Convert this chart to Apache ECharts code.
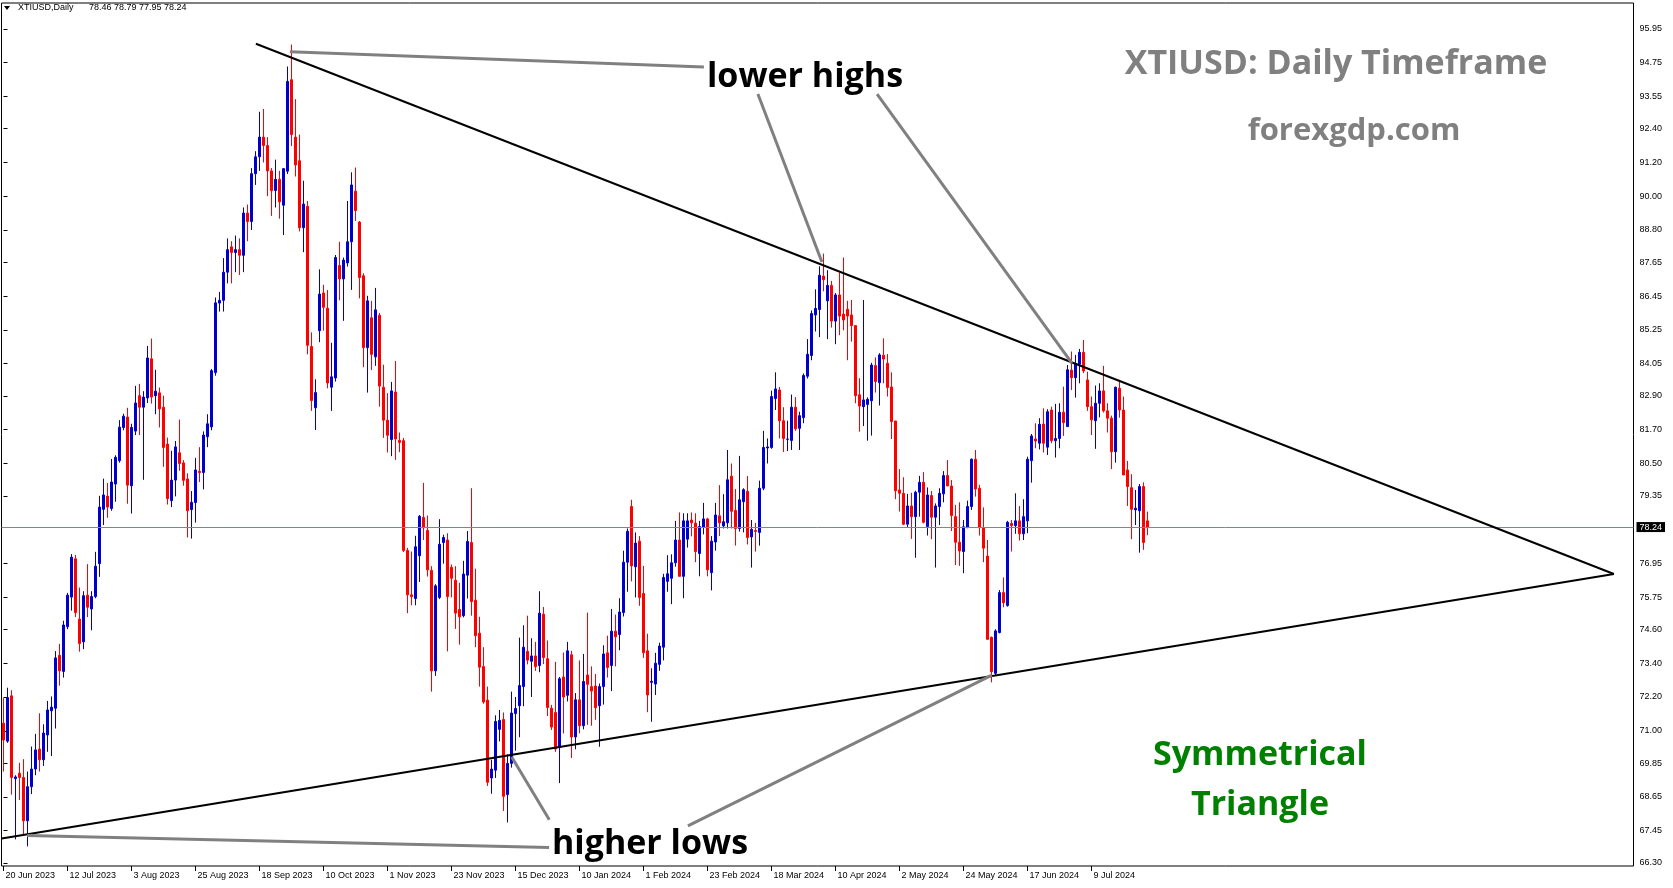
<!DOCTYPE html>
<html><head><meta charset="utf-8">
<script src="https://cdn.jsdelivr.net/npm/echarts@6/dist/echarts.min.js"></script>
<style>html,body{margin:0;padding:0;background:#fff}#c{width:1673px;height:888px}</style>
</head><body><div id="c"></div>
<script>
// ---------- DATA ----------
const symbolTitle = 'XTIUSD,Daily';
const headerValues = '78.46 78.79 77.95 78.24';
const startDate = '2023-06-20';
const holidays = ['2023-12-25', '2024-01-01', '2024-03-29'];
const totalSlots = 408;            // chart width in bars (incl. empty space on the right)
const labelEvery = 16;
const lastLabelIndex = 272;
const lastPrice = 78.24;

const opens = [
71.27,70.63,72.24,69.30,69.49,69.34,67.80,69.01,69.64,70.35,
69.97,70.85,71.71,71.80,73.68,73.11,74.70,75.75,77.11,74.97,
74.16,75.82,75.33,75.77,76.94,78.87,79.34,78.90,79.77,80.60,
81.78,82.15,79.71,81.65,82.91,82.50,82.83,84.22,82.91,83.01,
82.50,81.19,79.18,79.91,80.88,80.52,79.95,78.86,79.11,80.22,
80.18,81.45,81.80,83.73,86.2,86.3,87.3,88.2,88.0,88.1,
87.9,89.4,89.1,90.8,91.4,92.1,91.8,90.9,90.2,90.6,
89.68,90.89,94.14,92.10,91.26,88.88,89.64,84.66,82.48,85.22,
86.56,86.02,83.21,83.54,87.54,87.06,87.63,88.38,90.18,89.08,
87.17,84.62,85.68,84.29,85.77,83.21,82.04,81.35,83.04,81.32,
81.31,77.41,75.83,75.70,77.22,78.58,78.12,76.70,73.13,75.74,
77.69,77.78,76.81,76.35,75.31,75.09,76.53,77.69,75.64,74.47,
73.28,72.09,69.32,69.60,71.05,71.40,68.73,69.84,71.61,71.89,
72.57,73.82,73.47,73.66,73.32,75.14,73.56,71.80,71.65,70.40,
72.91,72.26,73.70,70.78,72.10,71.18,72.98,72.57,72.59,71.89,
72.57,73.77,73.32,74.54,74.42,75.20,76.99,78.97,76.83,77.74,
75.88,73.84,72.72,72.66,73.36,73.97,76.31,76.42,76.97,77.78,
76.49,77.81,78.49,78.38,77.30,78.23,78.53,76.62,77.71,78.64,
78.28,78.39,80.05,78.83,78.19,79.14,79.51,77.89,78.12,78.05,
79.62,81.05,81.07,82.81,83.11,82.02,81.36,81.32,82.50,81.75,
82.13,83.60,84.34,85.78,85.97,87.16,86.28,86.83,85.56,86.49,
85.81,85.98,85.78,85.40,82.94,82.52,82.60,82.73,83.98,83.37,
84.35,84.06,83.22,82.01,79.56,79.44,78.34,78.99,78.61,79.48,
79.83,78.26,79.36,78.59,78.97,79.42,80.07,79.70,78.61,77.70,
77.37,78.22,78.97,80.65,79.62,78.22,77.21,74.32,73.04,74.49,
75.91,75.45,78.37,78.29,78.46,78.00,78.46,80.60,81.37,81.22,
81.90,81.08,82.40,81.31,81.39,82.32,81.81,83.82,83.55,84.03,
84.45,83.47,82.52,82.02,82.64,83.08,82.37,82.11,80.92,83.17,
82.40,80.27,79.64,78.85,78.82,79.68,78.46];

const highs = [
72.16,72.53,72.44,69.42,69.86,69.99,69.55,70.44,70.89,71.62,
71.23,72.06,72.22,73.83,74.09,74.91,75.90,77.28,77.25,76.09,
75.96,76.92,75.96,77.36,79.35,79.96,79.81,80.66,80.79,82.04,
82.27,82.48,81.91,83.26,83.33,83.07,84.68,84.94,83.83,83.20,
82.91,81.42,80.95,81.30,82.06,80.62,80.15,79.52,80.70,81.08,
81.64,82.25,83.86,86.40,86.6,87.8,88.5,88.4,88.6,88.5,
89.6,89.7,91.0,91.6,93.0,93.1,92.1,91.0,91.3,90.9,
91.0,94.61,95.39,93.45,92.19,90.55,89.83,85.16,83.49,87.40,
86.85,86.67,84.79,87.91,88.38,87.82,89.83,90.85,91.02,89.12,
87.26,86.46,86.28,86.74,85.85,84.01,83.0,83.40,84.14,81.6,
81.41,77.50,77.37,77.93,78.67,79.81,78.65,76.85,76.21,78.52,
77.97,78.02,76.91,76.85,76.26,77.04,78.10,79.62,76.76,75.05,
73.97,72.57,69.97,71.55,71.74,71.65,70.16,72.39,72.20,74.31,
74.75,75.09,74.29,74.16,75.96,75.40,74.21,71.92,73.45,72.91,
73.78,74.16,73.84,72.34,73.50,73.73,75.20,73.29,73.02,72.68,
74.04,74.38,75.33,75.13,75.71,77.40,78.19,79.21,78.05,77.92,
76.86,74.45,73.22,73.77,74.13,76.58,77.24,77.27,78.46,78.76,
78.73,78.73,78.76,78.73,78.46,79.10,78.57,77.92,79.10,79.73,
79.41,80.98,80.50,79.59,80.77,79.62,80.05,78.49,78.39,79.89,
81.66,81.39,83.09,83.74,83.22,82.50,82.02,82.95,82.86,82.34,
83.70,84.92,85.94,86.69,87.51,87.96,87.37,86.99,86.56,87.28,
87.82,86.28,86.31,85.42,83.53,86.31,82.85,84.08,84.27,84.42,
84.95,84.39,83.74,82.01,80.30,80.01,79.42,79.46,79.53,80.06,
80.19,79.65,79.52,79.08,79.62,80.23,80.62,79.91,79.03,79.12,
78.49,79.18,80.68,80.98,79.74,78.94,77.78,74.35,74.61,76.00,
76.45,78.46,78.49,79.44,78.99,79.23,80.74,81.55,81.93,82.11,
82.46,82.43,82.52,82.62,82.64,83.23,84.00,84.48,84.36,84.57,
84.89,83.76,82.88,83.27,83.35,83.97,82.64,82.20,83.23,83.47,
82.88,80.59,80.12,79.56,79.77,79.83,78.79];

const lows = [
69.55,70.57,68.73,67.14,68.54,67.27,66.89,68.75,69.42,69.55,
69.75,70.25,70.10,71.08,72.60,72.89,74.61,75.27,75.04,73.81,
73.90,75.04,74.57,75.71,76.47,78.31,78.57,78.82,79.14,80.53,
81.68,79.07,78.72,81.51,81.51,79.92,82.65,82.63,82.25,81.78,
80.38,79.04,78.95,79.33,80.24,79.71,77.87,77.83,78.40,79.84,
79.58,81.08,81.68,83.62,85.9,85.9,86.9,86.9,87.3,87.2,
87.3,88.4,88.8,90.4,90.9,91.2,90.0,89.3,89.6,89.2,
88.62,90.79,91.78,90.70,88.75,88.01,84.38,82.37,81.69,84.81,
85.22,83.17,82.37,83.41,86.30,85.57,87.50,86.67,89.12,86.37,
83.92,83.02,83.82,83.97,82.52,81.41,80.89,80.76,80.63,80.9,
77.35,75.18,75.46,75.46,76.29,77.78,76.48,72.39,72.95,75.68,
76.94,73.82,75.74,74.62,74.06,75.03,75.70,75.09,73.97,72.57,
71.96,69.04,68.76,69.32,70.62,68.15,67.74,69.69,70.29,70.77,
71.87,73.36,72.20,73.13,73.08,73.37,71.52,71.03,70.25,69.14,
70.90,72.04,70.03,70.34,70.91,71.05,71.21,71.18,71.39,70.43,
71.93,72.89,72.41,73.29,73.86,75.06,75.94,76.31,75.74,75.44,
73.59,71.66,71.32,72.27,73.13,73.50,75.94,75.50,76.83,76.49,
75.71,77.51,77.91,76.99,76.49,77.98,76.49,75.99,77.40,77.92,
78.19,78.19,78.19,77.58,78.08,78.05,77.62,76.80,77.37,77.58,
79.55,80.50,81.02,82.40,81.39,80.91,80.94,80.98,81.66,80.98,
81.93,83.52,84.17,85.19,84.99,86.62,84.92,85.33,84.74,85.06,
85.23,84.17,84.83,82.64,81.63,81.83,81.31,81.49,83.02,82.56,
83.35,82.88,81.37,79.23,78.79,78.31,78.22,77.82,77.15,78.61,
78.37,77.94,77.81,76.80,78.31,79.12,79.70,78.10,76.89,76.86,
76.60,78.20,78.85,79.32,77.94,76.99,74.23,72.72,72.98,74.46,
75.39,75.41,77.37,78.00,77.76,77.78,78.02,79.82,81.04,81.00,
80.89,80.80,81.22,80.71,81.04,81.48,81.81,83.11,82.84,83.35,
83.71,82.37,81.51,81.02,82.14,82.31,81.60,80.30,80.53,82.13,
80.09,78.99,77.81,78.31,77.33,77.43,77.95];

const closes = [
70.67,72.18,69.34,69.36,69.34,67.80,69.01,69.64,70.32,69.97,
70.92,71.74,71.84,73.59,73.13,74.76,75.82,77.17,75.20,74.10,
75.80,75.39,75.77,76.85,78.95,79.38,78.95,79.84,80.72,81.79,
82.18,79.73,81.78,82.65,82.50,82.86,84.25,82.86,83.07,82.44,
81.07,79.25,79.91,81.09,80.50,79.90,78.82,79.12,80.27,80.18,
81.51,81.91,83.80,86.21,86.3,87.3,88.1,88.0,88.1,87.9,
89.4,89.1,90.8,91.4,92.1,91.8,90.9,90.2,90.6,89.8,
90.98,94.08,92.19,91.11,88.88,89.72,84.70,82.74,83.02,86.52,
86.05,83.36,83.58,87.82,87.06,87.73,88.38,90.40,89.49,87.11,
84.62,86.28,84.38,85.96,83.25,82.04,81.50,83.08,81.37,81.25,
77.41,75.83,75.77,77.54,78.62,78.21,76.72,73.13,76.15,77.63,
77.87,75.77,76.42,75.18,75.05,76.57,77.73,75.59,74.38,73.26,
72.02,69.17,69.64,71.33,71.37,68.67,69.84,71.63,71.79,72.61,
73.97,73.51,73.66,73.28,75.18,73.60,71.83,71.13,70.35,72.85,
72.20,73.84,70.78,72.10,71.18,72.75,72.65,72.41,71.82,72.57,
73.73,73.25,74.54,74.34,75.22,76.99,78.09,76.86,77.67,75.74,
73.77,72.27,72.76,73.40,74.01,76.45,76.58,76.97,77.78,76.49,
78.46,78.46,78.39,77.37,78.26,78.53,76.72,77.74,78.67,78.39,
78.43,79.92,78.80,78.19,79.21,79.57,77.87,78.16,78.08,79.62,
81.07,81.09,82.88,83.15,82.02,81.39,81.37,82.50,81.73,82.20,
83.63,84.38,85.83,86.01,87.19,87.03,86.83,85.56,86.49,85.74,
85.60,85.74,85.40,82.91,82.54,82.76,82.78,84.00,83.41,84.36,
84.21,83.20,81.99,79.53,79.44,78.34,78.99,78.61,79.48,79.83,
78.41,79.38,78.59,78.99,79.44,80.07,79.70,78.65,77.70,77.39,
78.25,78.97,80.65,79.59,78.22,77.49,74.25,73.10,74.55,75.91,
75.55,78.41,78.29,78.46,78.00,78.61,80.65,81.48,81.30,81.89,
81.22,82.34,81.31,81.39,82.32,81.95,83.83,83.55,84.03,84.45,
83.79,82.52,82.05,82.64,83.08,82.37,82.11,80.92,83.21,82.40,
80.09,79.68,78.87,78.91,79.68,77.69,78.24];

const priceTicks = [95.95,94.75,93.55,92.40,91.20,90.00,88.80,87.65,86.45,85.25,84.05,82.90,
  81.70,80.50,79.35,76.95,75.75,74.60,73.40,72.20,71.00,69.85,68.65,67.45,66.30];

// trend lines: [barIndex, price]
const upperTrend = [[63.1, 95.42], [402.6, 76.57]];
const lowerTrend = [[-0.45, 67.17], [402.6, 76.57]];
// grey pointer lines
const pointerLines = [
  [[71.6, 95.13], [175.1, 94.59]],
  [[188.6, 93.63], [204.6, 87.66]],
  [[218.4, 93.63], [267.1, 84.07]],
  [[5.9, 67.28], [136.4, 66.85]],
  [[136.45, 67.84], [127.05, 70.07]],
  [[171.1, 67.62], [247.1, 72.98]]
];

// ---------- BUILD ----------
const MON = ['Jan','Feb','Mar','Apr','May','Jun','Jul','Aug','Sep','Oct','Nov','Dec'];
function buildDates(n) {
  const out = [];
  const d = new Date(startDate + 'T00:00:00Z');
  while (out.length < n) {
    const dow = d.getUTCDay();
    const iso = d.toISOString().slice(0, 10);
    if (dow !== 0 && dow !== 6 && holidays.indexOf(iso) < 0)
      out.push(d.getUTCDate() + ' ' + MON[d.getUTCMonth()] + ' ' + d.getUTCFullYear());
    d.setUTCDate(d.getUTCDate() + 1);
  }
  return out;
}
const nBars = opens.length;
const categories = buildDates(nBars);
for (let i = nBars; i < totalSlots; i++) categories.push('future' + i);
const candleData = opens.map((o, i) => [o, closes[i], lows[i], highs[i]]);
const showLabel = (idx) => idx % labelEvery === 0 && idx <= lastLabelIndex;

const lineSeries = (pts, color, width) => ({
  type: 'line', xAxisIndex: 1, yAxisIndex: 0, data: pts, symbol: 'none',
  lineStyle: { color: color, width: width }, silent: true, animation: false, z: 5
});

const txt = (text, x, y, size, color) => ({
  type: 'text', x: x, y: y, silent: true, z: 100,
  style: { text: text, fill: color, font: 'bold ' + size + 'px "Open Sans"',
           textAlign: 'center', textVerticalAlign: 'middle' }
});

const chart = echarts.init(document.getElementById('c'), null, { renderer: 'canvas' });
chart.setOption({
  animation: false,
  backgroundColor: '#fff',
  grid: { left: 1.5, right: 39.5, top: 3, bottom: 22, show: true, borderColor: '#000', borderWidth: 1, backgroundColor: '#fff' },
  xAxis: [{
    type: 'category', data: categories, boundaryGap: true,
    axisLine: { show: false },
    axisTick: { show: true, interval: showLabel, alignWithLabel: true, length: 5, lineStyle: { color: '#000' } },
    axisLabel: { interval: showLabel, align: 'left', margin: 5, padding: [0, 0, 0, 2],
      fontSize: 9, color: '#000', fontFamily: 'Liberation Sans',
      formatter: (v, idx) => (idx < nBars ? v : '') },
    splitLine: { show: false }
  }, {
    type: 'value', min: -0.5, max: totalSlots - 0.5, show: false
  }],
  yAxis: {
    type: 'value', position: 'right', min: 66.193, max: 96.867, scale: true,
    axisLine: { show: false }, splitLine: { show: false },
    axisTick: { show: true, length: 4, inside: false, customValues: priceTicks, lineStyle: { color: '#000' } },
    axisLabel: { customValues: priceTicks, margin: 6, fontSize: 9, color: '#000', fontFamily: 'Liberation Sans',
      formatter: (v) => v.toFixed(2) }
  },
  series: [{
    type: 'candlestick', data: candleData, barWidth: 2, animation: false,
    itemStyle: { color: '#0000CD', color0: '#FF0000', borderColor: '#0000CD', borderColor0: '#FF0000', borderWidth: 1 },
    markLine: {
      silent: true, symbol: 'none', animation: false,
      lineStyle: { color: '#778899', width: 1, type: 'solid' },
      label: { show: true, position: 'end', distance: 3, formatter: lastPrice.toFixed(2),
        backgroundColor: '#000', color: '#fff', fontSize: 9, fontFamily: 'Liberation Sans', padding: [1, 3, 0, 3] },
      data: [{ yAxis: lastPrice }]
    },
    z: 2
  },
  lineSeries(upperTrend, '#000', 2),
  lineSeries(lowerTrend, '#000', 2)
  ].concat(pointerLines.map(p => lineSeries(p, '#808080', 3))),
  graphic: [
    { type: 'polygon', shape: { points: [[4, 6], [10, 6], [7, 10]] }, style: { fill: '#000' }, silent: true },
    { type: 'text', x: 18, y: 8, silent: true, style: { text: symbolTitle, fill: '#000', font: '9px "Liberation Sans"', textVerticalAlign: 'middle' } },
    { type: 'text', x: 89, y: 8, silent: true, style: { text: headerValues, fill: '#000', font: '9px "Liberation Sans"', textVerticalAlign: 'middle' } },
    txt('XTIUSD: Daily Timeframe', 1336, 64, 34, '#808080'),
    txt('forexgdp.com', 1354, 131, 31, '#808080'),
    txt('lower highs', 805, 77, 34, '#000'),
    txt('higher lows', 650, 844, 34, '#000'),
    txt('Symmetrical', 1260, 755, 34, '#008000'),
    txt('Triangle', 1260, 805, 34, '#008000')
  ]
});
</script></body></html>
